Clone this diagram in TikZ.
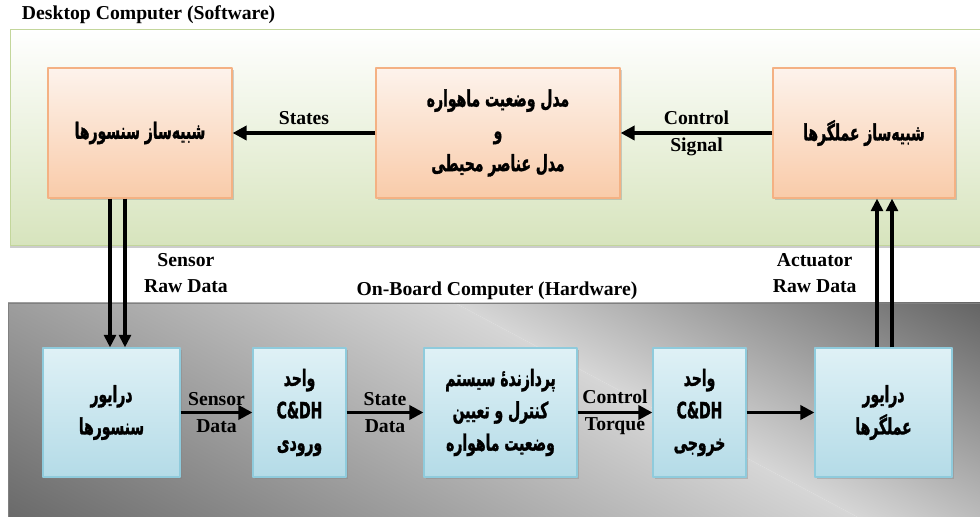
\documentclass[tikz,border=0pt]{standalone}
\usepackage{fontspec}
\setmainfont{Liberation Serif}
\newfontfamily\arabicfont[Script=Arabic,FakeStretch=0.62,BoldFeatures={FakeBold=1.3}]{DejaVu Sans}
\TeXXeTstate=1
\usetikzlibrary{arrows.meta,shadows,positioning}
\definecolor{PanelGreen}{HTML}{D7E4BD}
\definecolor{PanelEdge}{HTML}{C3D69B}
\definecolor{SimTop}{HTML}{FDF3EC}
\definecolor{SimBottom}{HTML}{F9CBA9}
\definecolor{SimEdge}{HTML}{F4B183}
\definecolor{HwTop}{HTML}{DFF1F6}
\definecolor{HwBottom}{HTML}{B4DBE7}
\definecolor{HwEdge}{HTML}{8FCBDC}
\definecolor{BoardDark}{HTML}{5E5E5E}
\definecolor{BoardDarker}{HTML}{686868}
\definecolor{BoardLight}{HTML}{D6D6D6}
\newcommand{\fa}[1]{{\beginR #1\endR}}

\begin{document}
\begin{tikzpicture}[x=0.025cm,y=-0.025cm,line join=round,
  lbl/.style={font=\bfseries\fontsize{14}{19}\selectfont,align=center},
  box/.style={minimum height=3.25cm,align=center,line width=.8pt,
    font=\arabicfont\bfseries\fontsize{16}{23}\selectfont,
    drop shadow={shadow xshift=1.5pt,shadow yshift=-1.5pt,opacity=.35}},
  simbox/.style={box,top color=SimTop,bottom color=SimBottom,draw=SimEdge},
  hwbox/.style={box,top color=HwTop,bottom color=HwBottom,draw=HwEdge},
  flow/.style={line width=2.8pt,-{Triangle[length=10pt,width=10pt]}},
  rawflow/.style={line width=2.5pt,-{Triangle[length=9pt,width=8.5pt]}}]
  \useasboundingbox (0,0) rectangle (980,517);

  % panels
  \shade[top color=white,bottom color=PanelGreen,draw=PanelEdge,
    drop shadow={shadow xshift=0pt,shadow yshift=-2pt,opacity=.4}]
    (10,29) rectangle (985,245);
  \begin{scope}
    \clip (8,303) rectangle (985,522);
    \shade[transform canvas={rotate around={62:(660,412)}},
      left color=BoardDarker,right color=BoardLight] (255,-300) rectangle (660,1125);
    \shade[transform canvas={rotate around={62:(660,412)}},
      left color=BoardLight,right color=BoardDark] (660,-300) rectangle (920,1125);
  \end{scope}
  \draw[gray] (8,522) |- (985,303);
  \node[lbl,anchor=west] (swtitle) at (17,15) {Desktop Computer (Software)};
  \node[lbl] (hwtitle) at (497,291) {On-Board Computer (Hardware)};

  % software side
  \node[simbox,minimum width=4.6cm] (ssim) at (140,133) {\fa{شبیه‌ساز سنسورها}};
  \node[simbox,minimum width=6.1cm] (model) at (498,133)
    {\fa{مدل وضعیت ماهواره}\\\fa{و}\\\fa{مدل عناصر محیطی}};
  \node[simbox,minimum width=4.55cm] (asim) at (864,133) {\fa{شبیه‌ساز عملگرها}};

  % hardware side
  \node[hwbox,minimum width=3.425cm,minimum height=3.225cm] (sdrv) at (111.5,412.5)
    {\fa{درایور}\\\fa{سنسورها}};
  \node[hwbox,minimum width=2.325cm,minimum height=3.225cm] (cdhin) at (299.5,412.5)
    {\fa{واحد}\\C\&DH\\\fa{ورودی}};
  \node[hwbox,minimum width=3.825cm,minimum height=3.225cm] (proc) at (500.5,412.5)
    {\fa{پردازندهٔ سیستم}\\\fa{کنترل و تعیین}\\\fa{وضعیت ماهواره}};
  \node[hwbox,minimum width=2.325cm,minimum height=3.225cm] (cdhout) at (699.5,412.5)
    {\fa{واحد}\\C\&DH\\\fa{خروجی}};
  \node[hwbox,minimum width=3.425cm,minimum height=3.225cm] (adrv) at (883.5,412.5)
    {\fa{درایور}\\\fa{عملگرها}};

  % connectors
  \draw[flow] (model) -- node[lbl,above=1pt] {States} (ssim);
  \draw[flow] (asim) -- node[lbl] {Control\\Signal} (model);
  \draw[rawflow] (ssim.south -| 110,0) -- (sdrv.north -| 110,0);
  \draw[rawflow] (ssim.south -| 125,0) -- node[lbl,right=9pt] {Sensor\\Raw Data} (sdrv.north -| 125,0);
  \draw[rawflow] (adrv.north -| 877,0) -- node[lbl,left=10pt] {Actuator\\Raw Data} (asim.south -| 877,0);
  \draw[rawflow] (adrv.north -| 892,0) -- (asim.south -| 892,0);
  \draw[flow] (sdrv) -- node[lbl] {Sensor\\Data} (cdhin);
  \draw[flow] (cdhin) -- node[lbl] {State\\Data} (proc);
  \draw[flow] (proc) -- node[lbl] {Control\\Torque} (cdhout);
  \draw[flow] (cdhout) -- (adrv);
\end{tikzpicture}
\end{document}
